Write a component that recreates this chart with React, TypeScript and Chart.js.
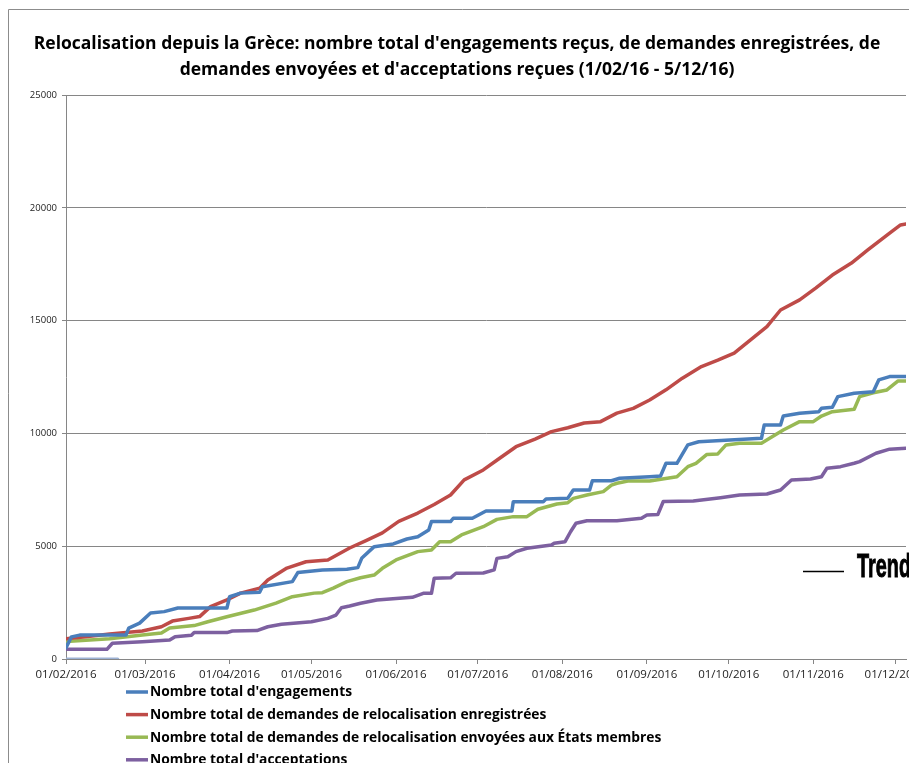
import { useEffect, useRef } from "react";
import { Chart, registerables } from "chart.js";

Chart.register(...registerables);

// Title
const titleLines = [
  "Relocalisation depuis la Grèce: nombre total d'engagements reçus, de demandes enregistrées, de",
  "demandes envoyées et d'acceptations reçues (1/02/16 - 5/12/16)",
];

// x axis: days since 01/02/2016
const monthTickLabels = [
  "01/02/2016", "01/03/2016", "01/04/2016", "01/05/2016", "01/06/2016", "01/07/2016",
  "01/08/2016", "01/09/2016", "01/10/2016", "01/11/2016", "01/12/2016",
];
const lastDateLabel = "05/12/2016";
const yTickValues = [0, 5000, 10000, 15000, 20000, 25000];

// Series labels
const seriesLabels = [
  "Nombre total d'engagements",
  "Nombre total de demandes de relocalisation enregistrées",
  "Nombre total de demandes de relocalisation envoyées aux États membres",
  "Nombre total d'acceptations",
];
const trendLabel = "Trend";

// Nombre total d'engagements
const engDays = [0, 2, 5, 22, 23, 27, 31, 36, 41, 59, 60, 64, 71, 72, 83, 85, 94, 103, 107, 108.5, 113, 120, 125, 129, 133, 134, 141, 142, 149, 154, 163.5, 164, 175, 176, 184, 186, 192, 193, 200, 203, 214, 218, 220, 224, 228, 232, 255, 256, 262, 263, 269, 276, 277, 281, 283, 289, 296, 298, 302, 308];
const engValues = [500, 980, 1060, 1060, 1370, 1590, 2040, 2100, 2260, 2260, 2760, 2920, 2960, 3200, 3430, 3830, 3950, 3980, 4050, 4480, 4980, 5100, 5320, 5420, 5720, 6090, 6090, 6240, 6240, 6560, 6560, 6975, 6975, 7090, 7130, 7490, 7490, 7900, 7900, 8010, 8080, 8110, 8675, 8675, 9490, 9630, 9780, 10370, 10370, 10770, 10890, 10960, 11110, 11160, 11630, 11780, 11850, 12370, 12520, 12520];

// Nombre total de demandes de relocalisation enregistrées
const regDays = [0, 8, 16, 28, 35, 39, 45, 49, 53, 59, 64, 71, 74, 81, 88, 96, 104, 110, 116, 122, 129, 135, 141, 146, 153, 159, 165, 172, 178, 184, 190, 196, 202, 208, 214, 220, 226, 233, 239, 245, 251, 257, 262, 269, 275, 281, 288, 294, 302, 306, 308];
const regValues = [900, 1000, 1110, 1240, 1430, 1680, 1800, 1880, 2320, 2620, 2920, 3140, 3500, 4030, 4310, 4390, 4920, 5250, 5590, 6100, 6470, 6850, 7270, 7940, 8380, 8900, 9410, 9750, 10080, 10250, 10460, 10520, 10900, 11110, 11480, 11930, 12450, 12960, 13250, 13560, 14150, 14730, 15470, 15920, 16450, 17020, 17550, 18130, 18880, 19240, 19280];

// Nombre total de demandes de relocalisation envoyées aux États membres
const sentDays = [0, 16, 28, 35, 38, 47, 52, 59, 69, 77, 83, 91, 94, 98, 103, 108, 113, 116, 121, 129, 134, 137, 141, 145, 153, 158, 164, 169, 173, 180, 184, 186, 191, 197, 200, 202, 206, 214, 224, 228, 231, 235, 239, 242, 247, 255, 258, 263, 269, 274, 277, 281, 289, 291, 296, 301, 305, 308];
const sentValues = [770, 900, 1065, 1150, 1370, 1480, 1650, 1875, 2170, 2480, 2760, 2920, 2940, 3140, 3430, 3600, 3720, 4020, 4390, 4760, 4830, 5200, 5200, 5500, 5865, 6190, 6310, 6310, 6640, 6870, 6930, 7120, 7270, 7420, 7710, 7790, 7890, 7890, 8080, 8525, 8675, 9070, 9090, 9490, 9560, 9560, 9780, 10150, 10520, 10520, 10770, 10960, 11070, 11630, 11800, 11925, 12320, 12320];

// Nombre total d'acceptations
const accDays = [0, 15, 17, 28, 38, 40, 46, 47, 59, 61, 70, 74, 79, 90, 96, 99, 101, 104, 108, 114, 127, 131, 134, 135, 141, 143, 153, 157, 158, 162, 165, 169, 178, 179, 183, 185, 187, 191, 202, 211, 213, 217, 219, 230, 240, 247, 257, 262, 266, 273, 277, 279, 284, 289, 291, 297, 302, 308];
const accValues = [430, 430, 700, 770, 840, 990, 1050, 1170, 1170, 1240, 1260, 1430, 1540, 1650, 1800, 1950, 2270, 2350, 2470, 2615, 2735, 2910, 2910, 3580, 3600, 3800, 3810, 3950, 4460, 4535, 4760, 4910, 5050, 5130, 5200, 5640, 6015, 6130, 6130, 6240, 6385, 6400, 6980, 7000, 7150, 7270, 7315, 7490, 7935, 7975, 8080, 8455, 8525, 8675, 8750, 9120, 9300, 9340];

// Trend
const trendDays = [0, 19];
const trendValues = [0, 0];

const COLORS = ["#4a7ebb", "#be4b48", "#98b954", "#7d60a0"];
const TREND_COLOR = "#9db2d4";
const FONT = "'Open Sans', 'Noto Sans', sans-serif";

function dayIndex(label: string): number {
  const [d, m, y] = label.split("/").map(Number);
  return Math.round((Date.UTC(y, m - 1, d) - Date.UTC(2016, 1, 1)) / 86400000);
}

const monthTickDays = monthTickLabels.map(dayIndex);
const lastDay = dayIndex(lastDateLabel);

function pts(days: number[], values: number[]) {
  return days.map((d, i) => ({ x: d, y: values[i] }));
}

const decorPlugin = {
  id: "decor",
  afterDraw(chart: any) {
    const ctx = chart.ctx as CanvasRenderingContext2D;
    ctx.save();
    // outer border (Excel chart frame)
    ctx.strokeStyle = "#8c8c8c";
    ctx.lineWidth = 1;
    ctx.beginPath();
    ctx.moveTo(0.5, chart.height);
    ctx.lineTo(0.5, 1.5);
    ctx.lineTo(chart.width, 1.5);
    ctx.stroke();

    // legend
    const ds = chart.data.datasets;
    ctx.font = `bold 13.8px ${FONT}`;
    ctx.textBaseline = "middle";
    ctx.textAlign = "left";
    for (let i = 0; i < 4; i++) {
      const y = 684 + i * 22.6;
      ctx.strokeStyle = ds[i].borderColor;
      ctx.lineWidth = 3.5;
      ctx.lineCap = "butt";
      ctx.beginPath();
      ctx.moveTo(118, y);
      ctx.lineTo(140, y);
      ctx.stroke();
      ctx.fillStyle = "#000";
      ctx.fillText(ds[i].label, 142, y + 0.5);
    }

    // Trend annotation
    ctx.strokeStyle = "#000";
    ctx.lineWidth = 1.5;
    ctx.beginPath();
    ctx.moveTo(795, 563.5);
    ctx.lineTo(836, 563.5);
    ctx.stroke();
    ctx.font = `bold 33px 'Liberation Sans Narrow', 'Liberation Sans', sans-serif`;
    ctx.textBaseline = "alphabetic";
    const w = ctx.measureText(trendLabel).width;
    ctx.translate(849, 569);
    ctx.scale(54 / w, 1);
    ctx.fillStyle = "#000";
    ctx.lineWidth = 1;
    ctx.strokeStyle = "#000";
    ctx.strokeText(trendLabel, 0, 0);
    ctx.fillText(trendLabel, 0, 0);
    ctx.restore();
  },
};

export default function App() {
  const ref = useRef<HTMLCanvasElement | null>(null);

  useEffect(() => {
    document.body.style.overflow = "hidden";
    const canvas = ref.current;
    if (!canvas) return;
    const line = (label: string, color: string, data: any, width = 3.5) => ({
      label,
      data,
      borderColor: color,
      backgroundColor: color,
      borderWidth: width,
      pointRadius: 0,
      tension: 0,
      fill: false,
      borderJoinStyle: "round" as const,
      borderCapStyle: "round" as const,
    });
    const chart = new Chart(canvas, {
      type: "line",
      data: {
        datasets: [
          line(seriesLabels[0], COLORS[0], pts(engDays, engValues)),
          line(seriesLabels[1], COLORS[1], pts(regDays, regValues)),
          line(seriesLabels[2], COLORS[2], pts(sentDays, sentValues)),
          line(seriesLabels[3], COLORS[3], pts(accDays, accValues)),
          line(trendLabel, TREND_COLOR, pts(trendDays, trendValues), 3),
        ],
      },
      options: {
        responsive: false,
        animation: false,
        devicePixelRatio: 1,
        layout: { padding: { left: 0, right: 10, top: 0, bottom: 99 } },
        plugins: {
          legend: { display: false },
          tooltip: { enabled: false },
          title: {
            display: true,
            text: titleLines,
            color: "#000",
            font: { family: FONT, size: 17.5, weight: "bold", lineHeight: 26 / 17.5 },
            padding: { top: 23, bottom: 12 },
          },
        },
        scales: {
          x: {
            type: "linear",
            min: 0,
            max: lastDay,
            afterBuildTicks: (scale: any) => {
              scale.ticks = monthTickDays.map((v) => ({ value: v }));
            },
            afterFit: (scale: any) => {
              scale.height = 20;
              scale.paddingLeft = 0;
              scale.paddingRight = 0;
            },
            ticks: {
              autoSkip: false,
              maxRotation: 0,
              padding: 4,
              color: "#222",
              font: { family: FONT, size: 11.5 },
              callback: (value: any) => {
                const i = monthTickDays.indexOf(Number(value));
                return i >= 0 ? monthTickLabels[i] : "";
              },
            },
            grid: {
              drawOnChartArea: false,
              drawTicks: true,
              tickLength: 5,
              color: "#868686",
            },
            border: { display: true, color: "#868686", width: 1 },
          },
          y: {
            min: 0,
            max: 25000,
            afterBuildTicks: (scale: any) => {
              scale.ticks = yTickValues.map((v) => ({ value: v }));
            },
            afterFit: (scale: any) => {
              scale.width = 58;
            },
            ticks: {
              padding: 5,
              color: "#222",
              font: { family: FONT, size: 9.5 },
              callback: (value: any) => String(value),
            },
            grid: {
              color: "#868686",
              lineWidth: 1,
              drawTicks: true,
              tickLength: 4,
            },
            border: { display: true, color: "#868686", width: 1 },
          },
        },
      },
      plugins: [decorPlugin],
    });
    return () => chart.destroy();
  }, []);

  return (
    <div style={{ width: 908, height: 770 }}>
      <canvas ref={ref} width={908} height={770} style={{ display: "block", width: 908, height: 770 }} />
    </div>
  );
}
